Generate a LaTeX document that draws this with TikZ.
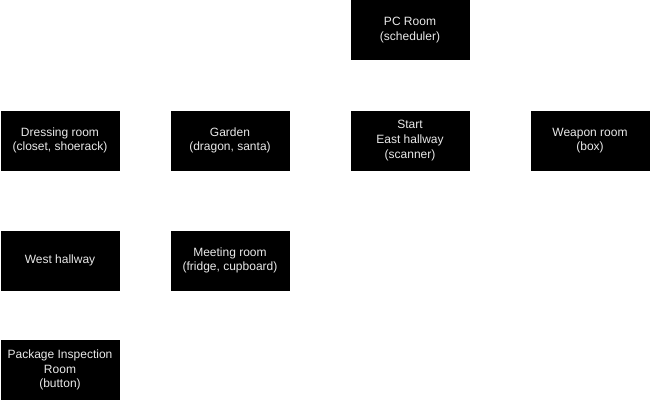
\documentclass[tikz,border=0pt]{standalone}
\usepackage{fontspec}
\setmainfont{Liberation Sans}
\definecolor{roomtext}{HTML}{E8E8E8}

\begin{document}
\begin{tikzpicture}[x=0.75pt,y=-0.75pt,font=\fontsize{9}{11}\selectfont,
    room/.style={fill=black,draw=black,text=roomtext,align=center,minimum width=88.5pt,minimum height=44.25pt,inner sep=0pt}]
        \useasboundingbox (0,0) rectangle (652,401);
        \node[room] (pc) at (410,30) {PC Room\\(scheduler)};
        \node[room] (dressing) at (60,140.5) {Dressing room\\(closet, shoerack)};
        \node[room] (garden) at (230,140.5) {Garden\\(dragon, santa)};
        \node[room] (start) at (410,140.5) {Start\\East hallway\\(scanner)};
        \node[room] (weapon) at (590,140.5) {Weapon room\\(box)};
        \node[room] (west) at (60,260.5) {West hallway};
        \node[room] (meeting) at (230,260.5) {Meeting room\\(fridge, cupboard)};
        \node[room] (package) at (60,370) {Package Inspection\\Room\\(button)};
    \end{tikzpicture}
\end{document}
